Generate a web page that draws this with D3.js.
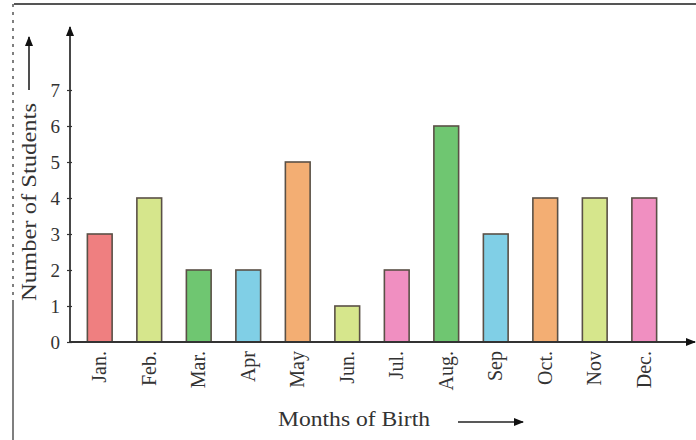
<!DOCTYPE html>
<html><head><meta charset="utf-8">
<script src="https://cdn.jsdelivr.net/npm/d3@7/dist/d3.min.js"></script>
<style>html,body{margin:0;padding:0;background:#fff;}svg{display:block;}</style>
</head><body>
<script>
const months = ["Jan.","Feb.","Mar.","Apr","May","Jun.","Jul.","Aug.","Sep","Oct.","Nov","Dec."];
const students = [3,4,2,2,5,1,2,6,3,4,4,4];
const barColors = ["#ef7f80","#d6e68c","#6fc671","#80cfe6","#f3ae73","#d6e68c","#f08fc1","#6fc671","#80cfe6","#f3ae73","#d6e68c","#f08fc1"];
const yTicks = [0,1,2,3,4,5,6,7];

const W = 696, H = 440;
const svg = d3.select("body").append("svg").attr("width", W).attr("height", H);
const font = "'Liberation Serif','DejaVu Serif',serif";

svg.append("defs").append("marker").attr("id","arr").attr("viewBox","0 0 10 10")
  .attr("refX",9).attr("refY",5).attr("markerWidth",10).attr("markerHeight",10)
  .attr("markerUnits","userSpaceOnUse").attr("orient","auto")
  .append("path").attr("d","M0,1 L10,5 L0,9 Z").attr("fill","#111");

// frame
svg.append("line").attr("x1",14).attr("x2",696).attr("y1",4).attr("y2",4).attr("stroke","#555").attr("stroke-width",2);
svg.append("line").attr("x1",13).attr("x2",13).attr("y1",4).attr("y2",300).attr("stroke","#555").attr("stroke-width",1.5).attr("stroke-dasharray","3,5");
svg.append("line").attr("x1",13).attr("x2",13).attr("y1",300).attr("y2",440).attr("stroke","#555").attr("stroke-width",1.5);

const x = d3.scaleBand().domain(months).range([75,669]).paddingInner(0.5).paddingOuter(0.25);
const y = d3.scaleLinear().domain([0,7]).range([342,90]);

// bars
svg.append("g").selectAll("rect").data(months).join("rect")
  .attr("x", d => x(d)).attr("width", x.bandwidth())
  .attr("y", (d,i) => y(students[i])).attr("height", (d,i) => y(0) - y(students[i]))
  .attr("fill", (d,i) => barColors[i]).attr("stroke","#5a5046").attr("stroke-width",1.6);

// y axis
const yAxis = svg.append("g").attr("transform","translate(70,0)")
  .call(d3.axisLeft(y).tickValues(yTicks).tickSize(4).tickPadding(6).tickFormat(d3.format("d")));
yAxis.select(".domain").remove();
yAxis.selectAll(".tick line").attr("x2",2).attr("x1",-3).attr("stroke","#333").attr("stroke-width",1.2);
yAxis.selectAll(".tick text").attr("font-family",font).attr("font-size",19).attr("fill","#333");
svg.append("line").attr("x1",70).attr("x2",70).attr("y1",343).attr("y2",27)
  .attr("stroke","#333").attr("stroke-width",1.8).attr("marker-end","url(#arr)");

// x axis
const xAxis = svg.append("g").attr("transform","translate(0,342)")
  .call(d3.axisBottom(x).tickSize(0).tickPadding(10));
xAxis.select(".domain").remove();
xAxis.selectAll(".tick text").attr("font-family",font).attr("font-size",20).attr("fill","#333")
  .attr("transform","rotate(-90)").attr("text-anchor","end").attr("dy","0.33em").attr("x",-9).attr("y",0);
svg.append("line").attr("x1",69).attr("x2",695).attr("y1",342).attr("y2",342)
  .attr("stroke","#333").attr("stroke-width",1.8).attr("marker-end","url(#arr)");

// titles
svg.append("text").attr("transform","translate(36,202) rotate(-90)").attr("text-anchor","middle")
  .attr("font-family",font).attr("font-size",21).attr("fill","#333")
  .attr("textLength",198).attr("lengthAdjust","spacingAndGlyphs").text("Number of Students");
svg.append("line").attr("x1",29).attr("x2",29).attr("y1",90).attr("y2",37)
  .attr("stroke","#222").attr("stroke-width",1.6).attr("marker-end","url(#arr)");

svg.append("text").attr("x",354).attr("y",426).attr("text-anchor","middle")
  .attr("font-family",font).attr("font-size",21).attr("fill","#333")
  .attr("textLength",152).attr("lengthAdjust","spacingAndGlyphs").text("Months of Birth");
svg.append("line").attr("x1",458).attr("x2",523).attr("y1",422).attr("y2",422)
  .attr("stroke","#222").attr("stroke-width",1.6).attr("marker-end","url(#arr)");
</script>
</body></html>
